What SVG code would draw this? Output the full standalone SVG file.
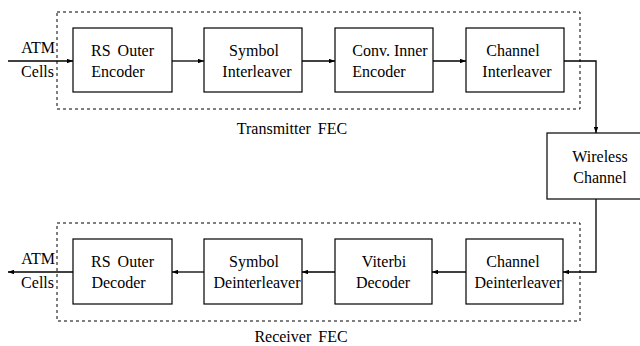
<svg xmlns="http://www.w3.org/2000/svg" width="640" height="346" viewBox="0 0 640 346">
  <defs>
    <marker id="ah" viewBox="0 0 8 6" refX="8" refY="3" markerWidth="6" markerHeight="4.5" markerUnits="userSpaceOnUse" orient="auto">
      <path d="M0,0 L8,3 L0,6 Z" fill="#000"/>
    </marker>
  </defs>
  <rect width="640" height="346" fill="#fff"/>

  <!-- FEC boundaries -->
  <g id="transmitter-fec" fill="none" stroke="#000" stroke-width="1" stroke-dasharray="3 3">
    <rect x="57" y="12" width="523" height="97"/>
  </g>
  <g id="receiver-fec" fill="none" stroke="#000" stroke-width="1" stroke-dasharray="3 3">
    <rect x="57" y="223" width="523" height="98"/>
  </g>

  <!-- connectors -->
  <g id="connectors" fill="none" stroke="#000" stroke-width="1.3" marker-end="url(#ah)">
    <line x1="8" y1="61" x2="73" y2="61"/>
    <line x1="172" y1="61" x2="204" y2="61"/>
    <line x1="302" y1="61" x2="335" y2="61"/>
    <line x1="433" y1="61" x2="466" y2="61"/>
    <polyline points="564,61 596,61 596,133"/>
    <polyline points="596,199 596,272 563,272"/>
    <line x1="466" y1="272" x2="432" y2="272"/>
    <line x1="335" y1="272" x2="302" y2="272"/>
    <line x1="204" y1="272" x2="172" y2="272"/>
    <line x1="73" y1="272" x2="8" y2="272"/>
  </g>

  <!-- transmitter chain -->
  <g id="rs-encoder">
    <rect x="73" y="28" width="99" height="64" fill="#fff" stroke="#000" stroke-width="1.2"/>
  </g>
  <g id="symbol-interleaver">
    <rect x="204" y="28" width="98" height="64" fill="#fff" stroke="#000" stroke-width="1.2"/>
  </g>
  <g id="conv-encoder">
    <rect x="335" y="28" width="98" height="64" fill="#fff" stroke="#000" stroke-width="1.2"/>
  </g>
  <g id="channel-interleaver">
    <rect x="466" y="28" width="98" height="64" fill="#fff" stroke="#000" stroke-width="1.2"/>
  </g>
  <g id="wireless-channel">
    <rect x="547" y="133" width="106" height="66" fill="#fff" stroke="#000" stroke-width="1.2"/>
  </g>
  <g id="channel-deinterleaver">
    <rect x="466" y="239" width="97" height="65" fill="#fff" stroke="#000" stroke-width="1.2"/>
  </g>
  <g id="viterbi-decoder">
    <rect x="335" y="239" width="97" height="65" fill="#fff" stroke="#000" stroke-width="1.2"/>
  </g>
  <g id="symbol-deinterleaver">
    <rect x="204" y="239" width="98" height="65" fill="#fff" stroke="#000" stroke-width="1.2"/>
  </g>
  <g id="rs-decoder">
    <rect x="73" y="239" width="99" height="65" fill="#fff" stroke="#000" stroke-width="1.2"/>
  </g>

  <!-- labels -->
  <g id="labels">
    <text x="292" y="134" font-family="Liberation Serif" font-size="16" text-anchor="middle" word-spacing="3">Transmitter FEC</text>
    <text x="301" y="342" font-family="Liberation Serif" font-size="16" text-anchor="middle" word-spacing="3">Receiver FEC</text>

    <text x="55" y="53" font-family="Liberation Serif" font-size="16" text-anchor="end">ATM</text>
    <text x="54" y="77" font-family="Liberation Serif" font-size="16" text-anchor="end">Cells</text>
    <text x="55" y="264" font-family="Liberation Serif" font-size="16" text-anchor="end">ATM</text>
    <text x="54" y="288" font-family="Liberation Serif" font-size="16" text-anchor="end">Cells</text>

    <text x="122.5" y="56" font-family="Liberation Serif" font-size="16" text-anchor="middle" word-spacing="3">RS Outer</text>
    <text x="118" y="77" font-family="Liberation Serif" font-size="16" text-anchor="middle">Encoder</text>
    <text x="254" y="56" font-family="Liberation Serif" font-size="16" text-anchor="middle">Symbol</text>
    <text x="257" y="77" font-family="Liberation Serif" font-size="16" text-anchor="middle">Interleaver</text>
    <text x="390" y="56" font-family="Liberation Serif" font-size="16" text-anchor="middle">Conv. Inner</text>
    <text x="379" y="77" font-family="Liberation Serif" font-size="16" text-anchor="middle">Encoder</text>
    <text x="513" y="56" font-family="Liberation Serif" font-size="16" text-anchor="middle">Channel</text>
    <text x="517" y="77" font-family="Liberation Serif" font-size="16" text-anchor="middle">Interleaver</text>

    <text x="600" y="162" font-family="Liberation Serif" font-size="16" text-anchor="middle">Wireless</text>
    <text x="600" y="183" font-family="Liberation Serif" font-size="16" text-anchor="middle">Channel</text>

    <text x="513" y="267" font-family="Liberation Serif" font-size="16" text-anchor="middle">Channel</text>
    <text x="518" y="288" font-family="Liberation Serif" font-size="16" text-anchor="middle">Deinterleaver</text>
    <text x="384" y="267" font-family="Liberation Serif" font-size="16" text-anchor="middle">Viterbi</text>
    <text x="383" y="288" font-family="Liberation Serif" font-size="16" text-anchor="middle">Decoder</text>
    <text x="254" y="267" font-family="Liberation Serif" font-size="16" text-anchor="middle">Symbol</text>
    <text x="257" y="288" font-family="Liberation Serif" font-size="16" text-anchor="middle">Deinterleaver</text>
    <text x="122.5" y="267" font-family="Liberation Serif" font-size="16" text-anchor="middle" word-spacing="3">RS Outer</text>
    <text x="118.5" y="288" font-family="Liberation Serif" font-size="16" text-anchor="middle">Decoder</text>
  </g>
</svg>
